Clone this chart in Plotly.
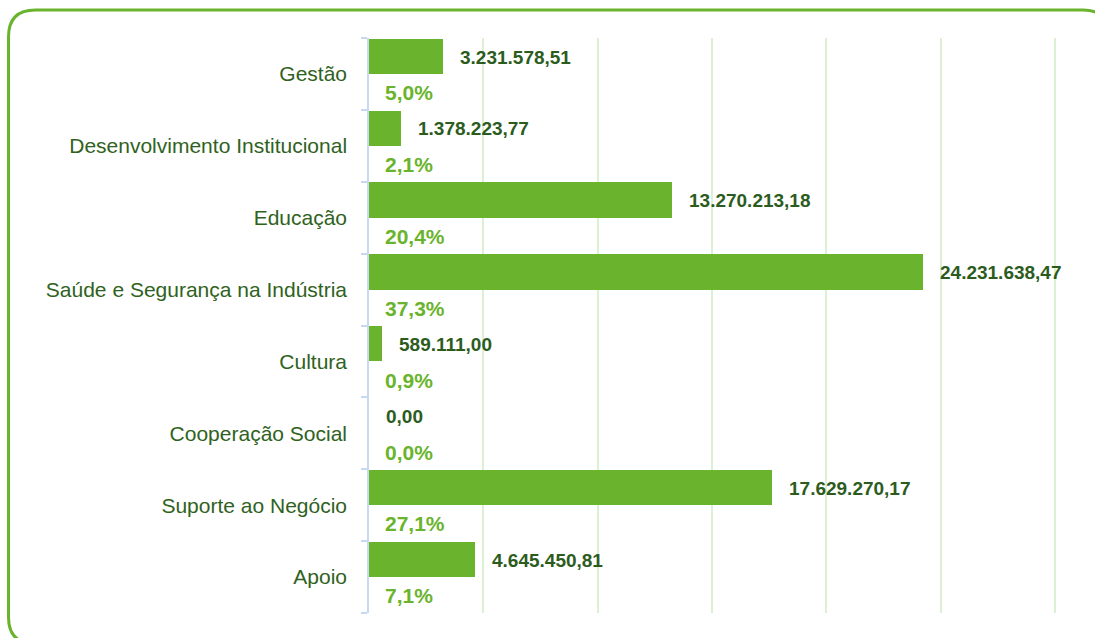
import plotly.graph_objects as go

categories = [
    "Gestão",
    "Desenvolvimento Institucional",
    "Educação",
    "Saúde e Segurança na Indústria",
    "Cultura",
    "Cooperação Social",
    "Suporte ao Negócio",
    "Apoio",
]
values = [
    3231578.51,
    1378223.77,
    13270213.18,
    24231638.47,
    589111.00,
    0.00,
    17629270.17,
    4645450.81,
]
grid_step = 5e6
grid_max = 30e6

BAR_GREEN = "#6ab42d"
DARK_GREEN = "#2c5c1d"
LABEL_GREEN = "#2f6221"
GRID_GREEN = "#dcf1d3"
AXIS_BLUE = "#c6d9f1"

W, H = 1095, 638
ML, MR, MT, MB = 369, 34, 38, 25
PW, PH = W - ML - MR, H - MT - MB
GRID_PX = 686  # pixel width covered by 0..grid_max


def br_number(v):
    s = f"{v:,.2f}"
    return s.replace(",", "#").replace(".", ",").replace("#", ".")


total = sum(values)
percents = [v / total * 100 for v in values]
pos = list(range(len(categories)))

fig = go.Figure()
fig.add_trace(
    go.Bar(
        x=values,
        y=pos,
        orientation="h",
        width=0.49,
        offset=-0.49,
        marker=dict(color=BAR_GREEN, line=dict(width=0)),
        hoverinfo="skip",
        showlegend=False,
    )
)

annotations = []
for i, (v, p) in enumerate(zip(values, percents)):
    annotations.append(
        dict(
            x=v, y=i - 0.235, xref="x", yref="y",
            text=f"<b>{br_number(v)}</b>",
            showarrow=False, xanchor="left", yanchor="middle", xshift=15,
            font=dict(family="Liberation Sans, Arial, sans-serif", size=19, color=DARK_GREEN),
        )
    )
    annotations.append(
        dict(
            x=0, y=i + 0.26, xref="x", yref="y",
            text=f"<b>{p:.1f}%</b>".replace(".", ","),
            showarrow=False, xanchor="left", yanchor="middle", xshift=14,
            font=dict(family="Liberation Sans, Arial, sans-serif", size=21, color=BAR_GREEN),
        )
    )


def px_x(px):
    return (px - ML) / PW


def px_y(py):
    return (H - MB - py) / PH


# rounded frame around the chart
x0, x1, y0, y1, r = 8.5, 1110, 10, 644, 27
frame = (
    f"M {px_x(x0 + r)} {px_y(y0)} L {px_x(x1 - r)} {px_y(y0)} "
    f"Q {px_x(x1)} {px_y(y0)} {px_x(x1)} {px_y(y0 + r)} "
    f"L {px_x(x1)} {px_y(y1 - r)} "
    f"Q {px_x(x1)} {px_y(y1)} {px_x(x1 - r)} {px_y(y1)} "
    f"L {px_x(x0 + r)} {px_y(y1)} "
    f"Q {px_x(x0)} {px_y(y1)} {px_x(x0)} {px_y(y1 - r)} "
    f"L {px_x(x0)} {px_y(y0 + r)} "
    f"Q {px_x(x0)} {px_y(y0)} {px_x(x0 + r)} {px_y(y0)} Z"
)

fig.update_layout(
    width=W,
    height=H,
    margin=dict(l=ML, r=MR, t=MT, b=MB, pad=0),
    paper_bgcolor="white",
    plot_bgcolor="white",
    bargap=0,
    annotations=annotations,
    shapes=[
        dict(type="path", path=frame, xref="paper", yref="paper",
             line=dict(color=BAR_GREEN, width=3), fillcolor="rgba(0,0,0,0)", layer="above")
    ],
    xaxis=dict(
        # a little headroom past the last gridline so it is still drawn
        range=[0, grid_max * PW / GRID_PX],
        tickvals=[grid_step * k for k in range(int(grid_max / grid_step) + 1)],
        showticklabels=False,
        showgrid=True,
        gridcolor=GRID_GREEN,
        gridwidth=2,
        zeroline=False,
        showline=False,
        ticks="",
        fixedrange=True,
    ),
    yaxis=dict(
        range=[len(categories) - 0.5, -0.5],
        tickvals=pos,
        ticktext=categories,
        ticks="",
        showgrid=False,
        zeroline=False,
        showline=True,
        linecolor=AXIS_BLUE,
        linewidth=1.5,
        ticklabelstandoff=16,
        tickfont=dict(family="Liberation Sans, Arial, sans-serif", size=21, color=LABEL_GREEN),
        minor=dict(
            tickvals=[k - 0.5 for k in range(len(categories) + 1)],
            ticks="outside",
            ticklen=6,
            tickcolor=AXIS_BLUE,
            tickwidth=1.5,
            showgrid=False,
        ),
        fixedrange=True,
    ),
)

fig.write_html("out.html", config={"displayModeBar": False})
